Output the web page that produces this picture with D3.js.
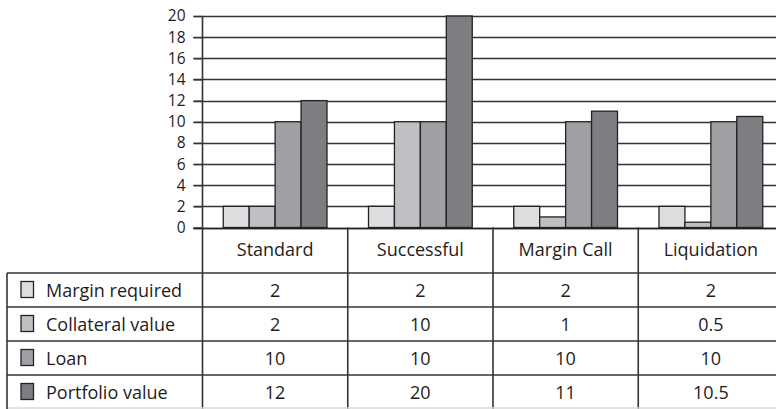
<!DOCTYPE html>
<html>
<head>
<meta charset="utf-8">
<script src="https://cdn.jsdelivr.net/npm/d3@7/dist/d3.min.js"></script>
<style>
  html, body { margin: 0; padding: 0; background: #fff; }
  svg { display: block; }
  text { font-family: "Open Sans", sans-serif; fill: #1f1c1d; }
</style>
</head>
<body>
<svg id="chart" width="776" height="409"></svg>
<script>
// ---- data ----
const categories = ["Standard", "Successful", "Margin Call", "Liquidation"];
const seriesNames = ["Margin required", "Collateral value", "Loan", "Portfolio value"];
const marginRequired = [2, 2, 2, 2];
const collateralValue = [2, 10, 1, 0.5];
const loan = [10, 10, 10, 10];
const portfolioValue = [12, 20, 11, 10.5];
const seriesLabels = [
  ["2", "2", "2", "2"],
  ["2", "10", "1", "0.5"],
  ["10", "10", "10", "10"],
  ["12", "20", "11", "10.5"]
];
const yTicks = [0, 2, 4, 6, 8, 10, 12, 14, 16, 18, 20];
const colors = ["#dcdddf", "#bfc0c3", "#9fa0a4", "#7d7e82"];

const seriesValues = [marginRequired, collateralValue, loan, portfolioValue];

// ---- layout ----
const W = 776, H = 409;
const axisX = 202.5;
const plotRight = 783.5;
const yTop = 16, yBottom = 227.5;
const headerBottom = 273;
const rowH = 34;
const tableLeft = 7;

const svg = d3.select("#chart");

const x = d3.scaleBand().domain(categories).range([axisX, plotRight]).paddingInner(0).paddingOuter(0);
const x1 = d3.scaleBand().domain(d3.range(seriesNames.length)).range([0, x.bandwidth()]).paddingInner(0).paddingOuter(0.8);
const y = d3.scaleLinear().domain([0, 20]).range([yBottom, yTop]);

// gridlines
svg.append("g").selectAll("line").data(yTicks).join("line")
  .attr("x1", axisX - 9).attr("x2", W)
  .attr("y1", d => Math.round(y(d)) + 0.5).attr("y2", d => Math.round(y(d)) + 0.5)
  .attr("stroke", "#333").attr("stroke-width", 1.3);

// y axis labels via d3 axis
const yAxis = d3.axisLeft(y).tickValues(yTicks).tickSize(9).tickPadding(8).tickFormat(d3.format("d"));
const gy = svg.append("g").attr("transform", `translate(${axisX},0)`).call(yAxis);
gy.select(".domain").remove();
gy.selectAll(".tick line").attr("stroke", "#333").attr("stroke-width", 1.3);
gy.selectAll(".tick text").attr("font-size", 15.5).attr("font-family", "'Open Sans', sans-serif").attr("fill", "#1f1c1d");

// bars
const barData = [];
categories.forEach((c, ci) => {
  seriesValues.forEach((vals, si) => barData.push({ c, si, v: vals[ci] }));
});
svg.append("g").selectAll("rect").data(barData).join("rect")
  .attr("x", d => x(d.c) + x1(d.si))
  .attr("width", x1.bandwidth())
  .attr("y", d => y(d.v))
  .attr("height", d => y(0) - y(d.v))
  .attr("fill", d => colors[d.si])
  .attr("stroke", "#222").attr("stroke-width", 1.3);

// baseline
svg.append("line").attr("x1", axisX - 9).attr("x2", W)
  .attr("y1", Math.round(y(0)) + 0.5).attr("y2", Math.round(y(0)) + 0.5)
  .attr("stroke", "#222").attr("stroke-width", 1.6);

// vertical axis line (through table)
svg.append("line").attr("x1", axisX).attr("x2", axisX).attr("y1", yTop).attr("y2", H)
  .attr("stroke", "#333").attr("stroke-width", 1.6);

// category separators in table
svg.append("g").selectAll("line").data(categories.slice(1)).join("line")
  .attr("x1", d => x(d)).attr("x2", d => x(d))
  .attr("y1", y(0)).attr("y2", H)
  .attr("stroke", "#333").attr("stroke-width", 1.6);

// header labels
svg.append("g").selectAll("text").data(categories).join("text")
  .attr("x", d => x(d) + x.bandwidth() / 2)
  .attr("y", 256)
  .attr("text-anchor", "middle")
  .attr("font-size", 18)
  .text(d => d);

// table rows
const rowsTop = d3.range(seriesNames.length).map(i => headerBottom + i * rowH);
svg.append("g").selectAll("line").data(rowsTop).join("line")
  .attr("x1", tableLeft).attr("x2", W)
  .attr("y1", d => d).attr("y2", d => d)
  .attr("stroke", "#333").attr("stroke-width", 1.6);
// bottom (faint)
svg.append("line").attr("x1", tableLeft).attr("x2", W).attr("y1", 408).attr("y2", 408)
  .attr("stroke", "#d8d8d8").attr("stroke-width", 1.5);
// left border
svg.append("line").attr("x1", tableLeft).attr("x2", tableLeft).attr("y1", headerBottom).attr("y2", H)
  .attr("stroke", "#333").attr("stroke-width", 1.6);

// legend swatches + names
const rows = svg.append("g").selectAll("g").data(seriesNames).join("g")
  .attr("transform", (d, i) => `translate(0,${rowsTop[i]})`);
rows.append("rect")
  .attr("x", 21).attr("y", 8.5).attr("width", 12.5).attr("height", 16)
  .attr("fill", (d, i) => colors[i]).attr("stroke", "#222").attr("stroke-width", 1.3);
rows.append("text")
  .attr("x", 46).attr("y", 23.5)
  .attr("font-size", 18)
  .text(d => d);
// values
rows.each(function(name, si) {
  d3.select(this).selectAll("text.val").data(categories).join("text")
    .attr("class", "val")
    .attr("x", c => x(c) + x.bandwidth() / 2)
    .attr("y", 23.5)
    .attr("text-anchor", "middle")
    .attr("font-size", 18)
    .text((c, ci) => seriesLabels[si][ci]);
});
</script>
</body>
</html>
